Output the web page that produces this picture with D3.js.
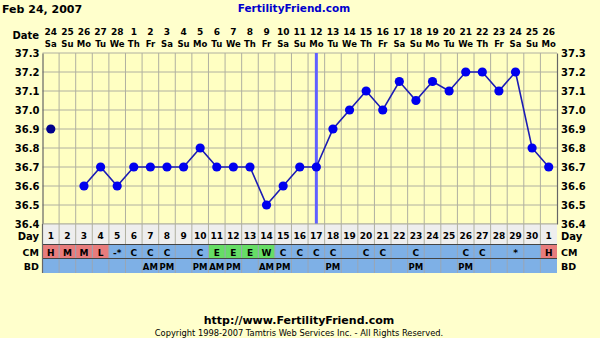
<!DOCTYPE html>
<html>
<head>
<meta charset="utf-8">
<script src="https://cdn.jsdelivr.net/npm/d3@7"></script>
<style>
  body { margin: 0; background: #ffffcc; }
  svg { display: block; font-family: "DejaVu Sans", Verdana, sans-serif; font-weight: bold; }
</style>
</head>
<body>
<svg id="chart" width="600" height="338"></svg>
<script>
// chart data
const dateNums = ["24","25","26","27","28","1","2","3","4","5","6","7","8","9","10","11","12","13","14","15","16","17","18","19","20","21","22","23","24","25","26"];
const weekDays = ["Sa","Su","Mo","Tu","We","Th","Fr","Sa","Su","Mo","Tu","We","Th","Fr","Sa","Su","Mo","Tu","We","Th","Fr","Sa","Su","Mo","Tu","We","Th","Fr","Sa","Su","Mo"];
const cycleDays = ["1","2","3","4","5","6","7","8","9","10","11","12","13","14","15","16","17","18","19","20","21","22","23","24","25","26","27","28","29","30","1"];
const temps = [36.9, null, 36.6, 36.7, 36.6, 36.7, 36.7, 36.7, 36.7, 36.8, 36.7, 36.7, 36.7, 36.5, 36.6, 36.7, 36.7, 36.9, 37.0, 37.1, 37.0, 37.15, 37.05, 37.15, 37.1, 37.2, 37.2, 37.1, 37.2, 36.8, 36.7];
const cmCodes = ["H","M","M","L","-*","C","C","C","","C","E","E","E","W","C","C","C","C","","C","C","","C","","","C","C","","*","","H"];
const bdCodes = ["","","","","","","AM","PM","","PM","AM","PM","","AM","PM","","","PM","","","","","PM","","","PM","","","","",""];
const yTicks = [36.4, 36.5, 36.6, 36.7, 36.8, 36.9, 37.0, 37.1, 37.2, 37.3];
const coverDay = 16;   // index of vertical line (cycle day 17)
const isolatedDays = [0]; // day 1 not joined to the line

const cmColor = c => (c && "HML".includes(c)) ? "#e87c7c" : ((c && "EW".includes(c)) ? "#66dd66" : null);

const svg = d3.select("#chart");
const plotL = 42.5, plotR = 557;
const plotT = 53, plotB = 224;

const x = d3.scaleBand().domain(d3.range(31)).range([plotL, plotR]).paddingInner(0).paddingOuter(0);
const y = d3.scaleLinear().domain([36.4, 37.3]).range([plotB, plotT]);
const bw = x.bandwidth();
const cx = i => x(i) + bw / 2;

// header
svg.append("text").attr("x", 2).attr("y", 13).attr("font-size", 11).attr("fill", "#000").text("Feb 24, 2007");
svg.append("text").attr("x", 294).attr("y", 12).attr("font-size", 10.5).attr("fill", "#0000cc")
  .attr("text-anchor", "middle").text("FertilityFriend.com");

svg.append("text").attr("x", 39).attr("y", 39).attr("font-size", 10).attr("text-anchor", "end").text("Date");
svg.append("g").selectAll("text").data(dateNums).join("text")
  .attr("x", (d, i) => cx(i)).attr("y", 34.5)
  .attr("text-anchor", "middle").attr("font-size", 9).text(d => d);
svg.append("g").selectAll("text").data(weekDays).join("text")
  .attr("x", (d, i) => cx(i)).attr("y", 47)
  .attr("text-anchor", "middle").attr("font-size", 8.5).text(d => d);

// plot background + grid
svg.append("rect").attr("x", plotL).attr("y", plotT).attr("width", plotR - plotL).attr("height", plotB - plotT)
  .attr("fill", "#ffffc2");
svg.append("g").selectAll("line").data(yTicks).join("line")
  .attr("x1", plotL).attr("x2", plotR).attr("y1", d => y(d)).attr("y2", d => y(d))
  .attr("stroke", "#b0b0a0").attr("stroke-width", 1);
svg.append("g").selectAll("line").data(d3.range(1, 31)).join("line")
  .attr("x1", d => x(d)).attr("x2", d => x(d)).attr("y1", plotT).attr("y2", 244)
  .attr("stroke", "#b0b0a0").attr("stroke-width", 1);

// y axes
const fmt = d3.format(".1f");
const axL = svg.append("g").attr("transform", `translate(${plotL},0)`)
  .call(d3.axisLeft(y).tickValues(yTicks).tickFormat(fmt).tickSize(0).tickPadding(3));
const axR = svg.append("g").attr("transform", `translate(${plotR},0)`)
  .call(d3.axisRight(y).tickValues(yTicks).tickFormat(fmt).tickSize(0).tickPadding(4));
[axL, axR].forEach(a => {
  a.select(".domain").attr("stroke", "#666").attr("stroke-width", 1.2);
  a.selectAll("text").attr("font-family", "DejaVu Sans").attr("font-weight", "bold")
    .attr("font-size", 10).attr("fill", "#000");
});

// coverline
svg.append("line").attr("x1", cx(coverDay)).attr("x2", cx(coverDay))
  .attr("y1", plotT).attr("y2", plotB).attr("stroke", "#6060ff").attr("stroke-width", 3);

// temperature line
const pts = temps.map((t, i) => ({ i, t }));
const line = d3.line()
  .defined(d => d.t != null && !isolatedDays.includes(d.i))
  .x(d => cx(d.i)).y(d => y(d.t));
svg.append("path").datum(pts).attr("d", line).attr("fill", "none")
  .attr("stroke", "#1c1cb4").attr("stroke-width", 1.6);
svg.append("g").selectAll("circle").data(pts.filter(d => d.t != null)).join("circle")
  .attr("cx", d => cx(d.i)).attr("cy", d => y(d.t)).attr("r", 4.6)
  .attr("fill", d => isolatedDays.includes(d.i) ? "#00008c" : "#0000ee");

// bottom rows
svg.append("rect").attr("x", plotL).attr("y", 224).attr("width", plotR - plotL).attr("height", 20).attr("fill", "#eeeeee");
svg.append("g").selectAll("line").data(d3.range(1, 31)).join("line")
  .attr("x1", d => x(d)).attr("x2", d => x(d)).attr("y1", 224).attr("y2", 244)
  .attr("stroke", "#b0b0a0");
svg.append("line").attr("x1", plotL).attr("x2", plotR).attr("y1", 224).attr("y2", 224).attr("stroke", "#b0b0a0");
svg.append("g").selectAll("text").data(cycleDays).join("text")
  .attr("x", (d, i) => cx(i)).attr("y", 239).attr("text-anchor", "middle")
  .attr("font-size", 9).text(d => d);

svg.append("rect").attr("x", plotL).attr("y", 244).attr("width", plotR - plotL).attr("height", 29).attr("fill", "#7eb0e6");
svg.append("g").selectAll("rect").data(cmCodes.map((c, i) => ({ c, i })).filter(d => cmColor(d.c))).join("rect")
  .attr("x", d => x(d.i)).attr("y", 245).attr("width", bw).attr("height", 13).attr("fill", d => cmColor(d.c));
svg.append("g").selectAll("line").data(d3.range(1, 31)).join("line")
  .attr("x1", d => x(d)).attr("x2", d => x(d)).attr("y1", 244).attr("y2", 273)
  .attr("stroke", "#9aa6b4");
svg.append("line").attr("x1", plotL).attr("x2", plotR).attr("y1", 244.5).attr("y2", 244.5).attr("stroke", "#444").attr("stroke-width", 1.2);
svg.append("line").attr("x1", plotL).attr("x2", plotR).attr("y1", 258.5).attr("y2", 258.5).attr("stroke", "#444").attr("stroke-width", 1);
svg.append("line").attr("x1", plotL).attr("x2", plotL).attr("y1", 224).attr("y2", 273).attr("stroke", "#666").attr("stroke-width", 1.2);

svg.append("g").selectAll("text").data(cmCodes).join("text")
  .attr("x", (d, i) => cx(i)).attr("y", 256).attr("text-anchor", "middle")
  .attr("font-size", 9).text(d => d);
svg.append("g").selectAll("text").data(bdCodes).join("text")
  .attr("x", (d, i) => cx(i)).attr("y", 270).attr("text-anchor", "middle")
  .attr("font-size", 8.5).text(d => d);

// row labels
const rowLabels = [["Day", 240, 10], ["CM", 256, 9.5], ["BD", 270, 9.5]];
rowLabels.forEach(([t, yy, fs]) => {
  svg.append("text").attr("x", 39).attr("y", yy).attr("text-anchor", "end").attr("font-size", fs).text(t);
  svg.append("text").attr("x", 561).attr("y", yy).attr("font-size", fs).text(t);
});

// footer
svg.append("text").attr("x", 299).attr("y", 324).attr("text-anchor", "middle").attr("font-size", 11)
  .text("http://www.FertilityFriend.com");
svg.append("text").attr("x", 299).attr("y", 336).attr("text-anchor", "middle").attr("font-size", 8.3)
  .attr("font-weight", "normal").text("Copyright 1998-2007 Tamtris Web Services Inc. - All Rights Reserved.");
</script>
</body>
</html>
